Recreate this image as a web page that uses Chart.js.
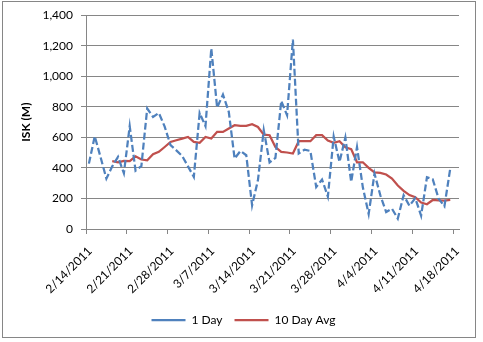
<!DOCTYPE html>
<html>
<head>
<meta charset="utf-8">
<script src="https://cdn.jsdelivr.net/npm/chart.js@4.4.0/dist/chart.umd.min.js"></script>
<style>
  body { margin: 0; background: #fff; }
  canvas { display: block; }
</style>
</head>
<body>
<canvas id="isk-chart" width="483" height="342"></canvas>
<script>
// --- data: one value per day, 2/14/2011 onwards ---
var tickLabels = ['2/14/2011', '2/21/2011', '2/28/2011', '3/7/2011', '3/14/2011',
	'3/21/2011', '3/28/2011', '4/4/2011', '4/11/2011', '4/18/2011'];

var oneDay = [
	428, 607, 470, 330, 410, 472, 365, 673, 382, 412,
	789, 734, 760, 670, 550, 515, 478, 410, 341, 760,
	673, 1182, 795, 880, 767, 461, 511, 483, 155, 319,
	647, 436, 465, 839, 745, 1241, 494, 520, 511, 275,
	324, 212, 605, 439, 599, 308, 537, 273, 98, 363,
	221, 111, 133, 68, 221, 152, 202, 87, 339, 325,
	199, 149, 396
];

var tenDayAvg = [
	null, null, null, null,
	444, 437, 446, 444, 476, 455, 450, 489, 505, 537,
	570, 581, 592, 603, 570, 564, 603, 592, 636, 636,
	658, 680, 675, 675, 686, 668, 618, 614, 537, 505,
	501, 494, 575, 575, 575, 614, 614, 579, 564, 575,
	535, 523, 437, 437, 400, 370, 368, 357, 330, 285,
	250, 222, 208, 173, 162, 190, 188, 186, 190
];

var yTicks = [0, 200, 400, 600, 800, 1000, 1200, 1400];

// each day sits in the middle of its own slot on the date axis
function toPoints(values) {
	return values.map(function(v, i) { return { x: i + 0.5, y: v }; });
}

var gray = '#868686';
var font = { family: 'Lato', size: 12 };

// thin frame round the whole chart
var frame = {
	id: 'frame',
	beforeDraw: function(chart) {
		var ctx = chart.ctx;
		ctx.save();
		ctx.fillStyle = '#fff';
		ctx.fillRect(0, 0, chart.width, chart.height);
		ctx.strokeStyle = gray;
		ctx.lineWidth = 1;
		ctx.strokeRect(2.5, 1.5, 473, 336);
		ctx.restore();
	}
};

var ctx = document.getElementById('isk-chart').getContext('2d');

var iskChart = new Chart(ctx, {
	type: 'line',
	data: {
		datasets: [{
			label: '1 Day',
			data: toPoints(oneDay),
			borderColor: '#4f81bd',
			backgroundColor: '#4f81bd',
			borderWidth: 2.25,
			borderDash: [7, 3],
			pointRadius: 0,
			tension: 0
		}, {
			label: '10 Day Avg',
			data: toPoints(tenDayAvg),
			borderColor: '#c0504d',
			backgroundColor: '#c0504d',
			borderWidth: 2.25,
			pointRadius: 0,
			tension: 0
		}]
	},
	options: {
		responsive: false,
		animation: false,
		layout: {
			padding: { left: 28, top: 15, right: 24, bottom: 6 }
		},
		plugins: {
			legend: {
				position: 'bottom',
				labels: {
					usePointStyle: true,
					pointStyle: 'line',
					pointStyleWidth: 34,
					color: '#000',
					font: font,
					padding: 12
				}
			},
			tooltip: { enabled: false }
		},
		scales: {
			x: {
				type: 'linear',
				min: 0,
				max: oneDay.length + 1,
				afterBuildTicks: function(scale) {
					scale.ticks = tickLabels.map(function(t, i) { return { value: i * 7 }; });
				},
				afterFit: function(scale) { scale.height = 73; },
				ticks: {
					autoSkip: false,
					maxRotation: 45,
					minRotation: 45,
					color: '#000',
					font: font,
					padding: 10,
					labelOffset: 4,
					callback: function(value) { return tickLabels[value / 7]; }
				},
				grid: {
					drawOnChartArea: false,
					drawTicks: true,
					tickLength: 5,
					color: gray
				},
				border: { color: gray }
			},
			y: {
				min: 0,
				max: 1400,
				afterBuildTicks: function(scale) {
					scale.ticks = yTicks.map(function(v) { return { value: v }; });
				},
				afterFit: function(scale) { scale.width = 58; },
				ticks: {
					color: '#000',
					font: font,
					padding: 8,
					callback: function(value) { return value.toLocaleString('en-US'); }
				},
				grid: {
					color: gray,
					tickLength: 5
				},
				border: { color: gray },
				title: {
					display: true,
					text: 'ISK (M)',
					color: '#000',
					font: { family: 'Lato', size: 12, weight: 'bold' },
					padding: { top: -9, bottom: 0 }
				}
			}
		}
	},
	plugins: [frame]
});
</script>
</body>
</html>
